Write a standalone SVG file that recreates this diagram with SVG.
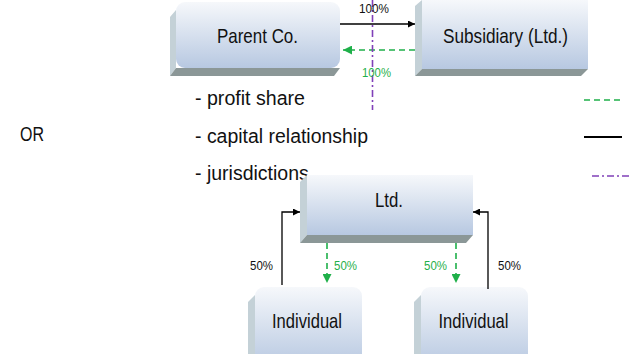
<svg xmlns="http://www.w3.org/2000/svg" width="632" height="354" viewBox="0 0 632 354">
  <defs>
    <linearGradient id="face" x1="0" y1="0" x2="0" y2="1">
      <stop offset="0" stop-color="#f6f8fb"/>
      <stop offset="1" stop-color="#b7c8e1"/>
    </linearGradient>
    <marker id="arrBlack" viewBox="0 0 10 10" refX="10" refY="5" markerWidth="9" markerHeight="7" markerUnits="userSpaceOnUse" orient="auto">
      <path d="M0,0 L10,5 L0,10 Z" fill="#000"/>
    </marker>
    <marker id="arrGreen" viewBox="0 0 10 10" refX="10" refY="5" markerWidth="11" markerHeight="9" markerUnits="userSpaceOnUse" orient="auto">
      <path d="M0,0 L10,5 L0,10 Z" fill="#1fb04a"/>
    </marker>
  </defs>
  <style>
    .face { fill: url(#face); }
    .side { fill: #c4d1d7; }
    .base { fill: #8b9797; }
    .lbl { font-family: "Liberation Sans", Arial, sans-serif; font-size: 21px; fill: #111; text-anchor: middle; }
    .legend { font-family: "Liberation Sans", Arial, sans-serif; font-size: 19.5px; fill: #111; }
    .pct { font-family: "Liberation Sans", Arial, sans-serif; font-size: 12.5px; }
    .pctB { fill: #111; }
    .pctG { fill: #1fb04a; }
    .cap { stroke: #000; stroke-width: 1.3; fill: none; }
    .share { stroke: #1fb04a; stroke-width: 1.6; stroke-dasharray: 6 4; fill: none; }
    .juris { stroke: #8040b8; stroke-width: 1.6; stroke-dasharray: 7 3 2 3; fill: none; }
  </style>

  <!-- Legend (the Ltd. box drawn later covers the tail of the last entry) -->
  <g id="legend">
    <text class="legend" x="195" y="105" textLength="110" lengthAdjust="spacingAndGlyphs">- profit share</text>
    <text class="legend" x="195" y="142.5" textLength="173" lengthAdjust="spacingAndGlyphs">- capital relationship</text>
    <text class="legend" x="195" y="180">- jurisdictions</text>
    <line class="share" x1="584" y1="100" x2="624" y2="100"/>
    <line class="cap" x1="584" y1="137" x2="622" y2="137" style="stroke-width:1.8"/>
    <line class="juris" x1="592" y1="176" x2="632" y2="176"/>
  </g>

  <text id="or" class="legend" x="20" y="141" style="font-size:20px" textLength="24" lengthAdjust="spacingAndGlyphs">OR</text>

  <!-- Parent Co. (rounded 3D box) -->
  <g id="parent">
    <path class="side" d="M176,10 L170,17 L170,76 L176,68 Z"/>
    <path class="base" d="M176,68 L340,68 L334,76 L170,76 Z"/>
    <rect class="face" x="176" y="2" width="164" height="66" rx="9"/>
    <text class="lbl" x="257.5" y="43" textLength="81" lengthAdjust="spacingAndGlyphs">Parent Co.</text>
  </g>

  <!-- Subsidiary (Ltd.) -->
  <g id="subsidiary">
    <path class="side" d="M422,0 L415,6 L415,76 L422,69 Z"/>
    <path class="base" d="M422,69 L588,69 L581,76 L415,76 Z"/>
    <rect class="face" x="422" y="0" width="166" height="69"/>
    <text class="lbl" x="505.5" y="43" textLength="125" lengthAdjust="spacingAndGlyphs">Subsidiary (Ltd.)</text>
  </g>

  <!-- Ltd. -->
  <g id="ltd">
    <path class="side" d="M307,175 L300,182 L300,243 L307,235 Z"/>
    <path class="base" d="M307,235 L473,235 L466,243 L300,243 Z"/>
    <rect class="face" x="307" y="175" width="166" height="60"/>
    <text class="lbl" x="389" y="207" textLength="28" lengthAdjust="spacingAndGlyphs">Ltd.</text>
  </g>

  <!-- Individual (left) -->
  <g id="individual-left">
    <path class="side" d="M255,295 L248,302 L248,354 L255,354 Z"/>
    <rect class="face" x="255" y="287" width="107" height="80" rx="9"/>
    <text class="lbl" x="307" y="328" textLength="70" lengthAdjust="spacingAndGlyphs">Individual</text>
  </g>

  <!-- Individual (right) -->
  <g id="individual-right">
    <path class="side" d="M421,295 L414,302 L414,354 L421,354 Z"/>
    <rect class="face" x="421" y="287" width="107" height="80" rx="9"/>
    <text class="lbl" x="473.5" y="328" textLength="70" lengthAdjust="spacingAndGlyphs">Individual</text>
  </g>

  <!-- Connectors -->
  <g id="connectors">
    <line class="cap" x1="340" y1="24" x2="415" y2="24" marker-end="url(#arrBlack)"/>
    <line class="share" x1="415" y1="50" x2="343" y2="50" marker-end="url(#arrGreen)"/>
    <line class="juris" x1="372.5" y1="0" x2="372.5" y2="110"/>
    <path class="cap" d="M282,285 L282,212 L300,212" marker-end="url(#arrBlack)"/>
    <path class="cap" d="M488,289 L488,212 L473,212" marker-end="url(#arrBlack)"/>
    <line class="share" x1="327" y1="243" x2="327" y2="283" marker-end="url(#arrGreen)"/>
    <line class="share" x1="456" y1="243" x2="456" y2="283" marker-end="url(#arrGreen)"/>
  </g>

  <!-- Connector labels -->
  <g id="connector-labels">
    <text class="pct pctB" x="359" y="12.5" textLength="30" lengthAdjust="spacingAndGlyphs">100%</text>
    <text class="pct pctG" x="362" y="76.5" textLength="29" lengthAdjust="spacingAndGlyphs">100%</text>
    <text class="pct pctB" x="250" y="270" textLength="23" lengthAdjust="spacingAndGlyphs">50%</text>
    <text class="pct pctG" x="334" y="270" textLength="23" lengthAdjust="spacingAndGlyphs">50%</text>
    <text class="pct pctG" x="424" y="270" textLength="23" lengthAdjust="spacingAndGlyphs">50%</text>
    <text class="pct pctB" x="498" y="270" textLength="23" lengthAdjust="spacingAndGlyphs">50%</text>
  </g>
</svg>
